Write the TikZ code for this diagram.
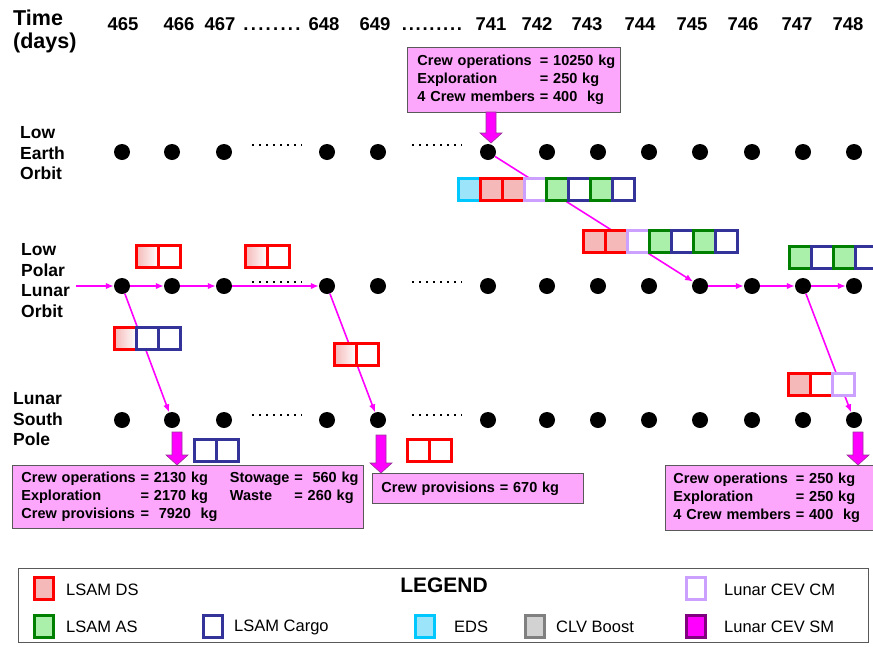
\documentclass[tikz,border=0pt]{standalone}
\usepackage{fontspec}
\setmainfont{Liberation Sans}
\usetikzlibrary{arrows.meta}

\definecolor{dsred}{RGB}{255,0,0}
\definecolor{dspink}{RGB}{245,185,185}
\definecolor{asgreen}{RGB}{0,128,0}
\definecolor{aslight}{RGB}{170,240,170}
\definecolor{cargoblue}{RGB}{51,51,153}
\definecolor{edscyan}{RGB}{0,200,255}
\definecolor{edslight}{RGB}{155,228,250}
\definecolor{cmlav}{RGB}{204,160,255}
\definecolor{clvgray}{RGB}{128,128,128}
\definecolor{clvlight}{RGB}{210,210,210}
\definecolor{smpurple}{RGB}{128,0,128}
\definecolor{smmag}{RGB}{255,0,255}
\definecolor{calpink}{RGB}{252,166,252}
\definecolor{flow}{RGB}{255,0,255}

% row of module squares: name, x of first centre, y, styles
\newcommand{\modstack}[4]{%
  \foreach \s [count=\i] in {#4}
    \node[\s] (#1\i) at ({#2+(\i-1)*22},#3) {};
}
% fat arrow from a callout to a dot: x, top, tip
\newcommand{\blockarrow}[3]{%
  \draw[barrow] (#1-5,#2) -- (#1-5,#3-10) -- (#1-11,#3-10) -- (#1,#3)
    -- (#1+11,#3-10) -- (#1+5,#3-10) -- (#1+5,#2) -- cycle;
}
% dotted gap in the day list
\newcommand{\daygap}[1]{\makebox[#1]{\xleaders\hbox to 6.7pt{\hss.\hss}\hfill}}

\begin{document}
\begin{tikzpicture}[
  x=1pt, y=-1pt,
  dot/.style={circle, fill=black, minimum size=16pt, inner sep=0pt},
  mod/.style={rectangle, draw, line width=3pt, minimum width=22pt, minimum height=22pt, inner sep=0pt, fill=white},
  dsfull/.style={mod, draw=dsred, fill=dspink},
  dsfade/.style={mod, draw=dsred, left color=dspink, right color=white},
  dsempty/.style={mod, draw=dsred},
  asfull/.style={mod, draw=asgreen, fill=aslight},
  cargobox/.style={mod, draw=cargoblue},
  edsbox/.style={mod, draw=edscyan, fill=edslight},
  cmbox/.style={mod, draw=cmlav},
  smbox/.style={mod, draw=smpurple, fill=smmag},
  clvbox/.style={mod, draw=clvgray, fill=clvlight},
  legsq/.style={minimum width=19pt, minimum height=22pt},
  flowline/.style={draw=flow, line width=1.6pt, -{Latex[length=8pt,width=6.5pt]}},
  filler/.style={line width=1.5pt, dash pattern=on 1.5pt off 5.5pt},
  barrow/.style={fill=smmag, draw=smpurple!80, line width=0.6pt},
  callout/.style={rectangle, draw=black!65, line width=0.8pt, fill=calpink, anchor=north west,
    font=\fontsize{14.5}{18}\selectfont\bfseries, align=left, inner ysep=2pt},
  daylbl/.style={font=\fontsize{18.5}{22}\selectfont\bfseries, anchor=base, inner sep=0pt},
  rowlbl/.style={font=\fontsize{17.5}{20.8}\selectfont\bfseries, anchor=north west, align=left, inner sep=0pt},
  legtxt/.style={font=\fontsize{16.5}{19}\selectfont, anchor=west, inner sep=0pt},
]
\useasboundingbox (0,0) rectangle (873,646);
\clip (0,0) rectangle (873,646);

% ══ Time axis ══
\node[rowlbl, font=\fontsize{21.5}{22.5}\selectfont\bfseries] (time) at (13,10) {Time\\(days)};
\foreach \d/\x in {465/123, 466/179, 467/220, 648/324, 649/375,
                   741/491, 742/537, 743/587, 744/640, 745/692, 746/743, 747/797, 748/848}
  \node[daylbl] (day\d) at (\x,30) {\d};
\node[daylbl] (gapa) at (272,30) {\daygap{60pt}};
\node[daylbl] (gapb) at (432,30) {\daygap{62pt}};

% ══ Rows ══
\node[rowlbl] (leolbl) at (20,126) {Low\\Earth\\Orbit};
\node[rowlbl] (lplolbl) at (21,243) {Low\\Polar\\Lunar\\Orbit};
\node[rowlbl] (lsplbl) at (13,392) {Lunar\\South\\Pole};

\foreach \d/\x in {465/122, 466/172, 467/224, 648/327, 649/378,
                   741/488, 742/547, 743/598, 744/649, 745/700, 746/752, 747/803, 748/854} {
  \node[dot] (leo\d) at (\x,152) {};
  \node[dot] (lplo\d) at (\x,286) {};
  \node[dot] (lsp\d) at (\x,420) {};
}

% skipped days
\foreach \y in {145, 282, 415} {
  \draw[filler] (252,\y) -- (302,\y);
  \draw[filler] (412,\y) -- (462,\y);
}

% ══ Flights ══
\coordinate (lploin) at (76,286);
\draw[flowline] (lploin) -- (lplo465);
\draw[flowline] (lplo465) -- (lplo466);
\draw[flowline] (lplo466) -- (lplo467);
\draw[flowline] (lplo467) -- (lplo648);
\draw[flowline] (lplo745) -- (lplo746);
\draw[flowline] (lplo746) -- (lplo747);
\draw[flowline] (lplo747) -- (lplo748);

\draw[flowline] (lplo465) -- (lsp466);
\draw[flowline] (lplo648) -- (lsp649);
\draw[flowline] (leo741) -- (lplo745);
\draw[flowline] (lplo747) -- (lsp748);

% ══ Vehicle stacks ══
\modstack{leostk}{469.5}{189.5}{edsbox,dsfull,dsfull,cmbox,asfull,cargobox,asfull,cargobox}
\modstack{lplostk}{594.5}{241.5}{dsfull,dsfull,cmbox,asfull,cargobox,asfull,cargobox}
\modstack{endstk}{800.5}{257}{asfull,cargobox,asfull,cargobox}
\modstack{dsa}{147.5}{256.5}{dsfade,dsempty}
\modstack{dsb}{256.5}{256.5}{dsfade,dsempty}
\modstack{descent}{125.5}{338.5}{dsfade,cargobox,cargobox}
\modstack{dsc}{345.5}{354}{dsfade,dsempty}
\modstack{cargoa}{205.5}{450.5}{cargobox,cargobox}
\modstack{dsd}{418.5}{450.5}{dsempty,dsempty}
\modstack{crewret}{799.5}{384}{dsfull,dsempty,cmbox}

% ══ Payload callouts ══
\node[callout, text width=193pt, minimum height=65pt, inner xsep=10pt] (cal741) at (407,47)
  {\begin{tabular}{@{}l@{\ }l@{}}
   Crew operations & = 10250 kg\\
   Exploration & = 250 kg\\
   4 Crew members & = 400\ \ kg
   \end{tabular}};
\blockarrow{491}{112}{143}

\node[callout, text width=333pt, minimum height=63pt, inner xsep=9pt] (cal466) at (12,465)
  {\begin{tabular}{@{}l@{\ }l@{\hspace{22pt}}l@{\ }l@{}}
   Crew operations & = 2130 kg & Stowage & =\ \ 560 kg\\
   Exploration & = 2170 kg & Waste & = 260 kg\\
   Crew provisions & \multicolumn{3}{@{}l@{}}{=\ \ 7920\ \ kg}
   \end{tabular}};
\blockarrow{177}{432}{465}

\node[callout, text width=193pt, minimum height=30pt, inner xsep=9pt] (cal649) at (372,473)
  {Crew provisions = 670 kg};
\blockarrow{381}{435}{473}

\node[callout, text width=192pt, minimum height=65pt, inner xsep=8pt] (cal748) at (665,465)
  {\begin{tabular}{@{}l@{\ }l@{}}
   Crew operations & = 250 kg\\
   Exploration & = 250 kg\\
   4 Crew members & = 400\ \ kg
   \end{tabular}};
\blockarrow{858}{432}{465}

% ══ Legend ══
\draw[black!65, line width=0.8pt] (18,568) rectangle (868,642);
\node[font=\fontsize{21}{24}\selectfont\bfseries, inner sep=0pt] (legend) at (444,585) {LEGEND};
\node[dsfull, legsq] (kds) at (44,588) {};
\node[legtxt] (kdstxt) at (66,590) {LSAM DS};
\node[asfull, legsq] (kas) at (44,626) {};
\node[legtxt] (kastxt) at (66,627) {LSAM AS};
\node[cargobox, legsq] (kcargo) at (213,626) {};
\node[legtxt] (kcargotxt) at (234,627) {LSAM Cargo};
\node[edsbox, legsq] (keds) at (425,626) {};
\node[legtxt] (kedstxt) at (454,627) {EDS};
\node[clvbox, legsq] (kclv) at (535,626) {};
\node[legtxt] (kclvtxt) at (556,627) {CLV Boost};
\node[cmbox, legsq] (kcm) at (696,588) {};
\node[legtxt] (kcmtxt) at (724,590) {Lunar CEV CM};
\node[smbox, legsq] (ksm) at (696,626) {};
\node[legtxt] (ksmtxt) at (724,627) {Lunar CEV SM};

\end{tikzpicture}
\end{document}
